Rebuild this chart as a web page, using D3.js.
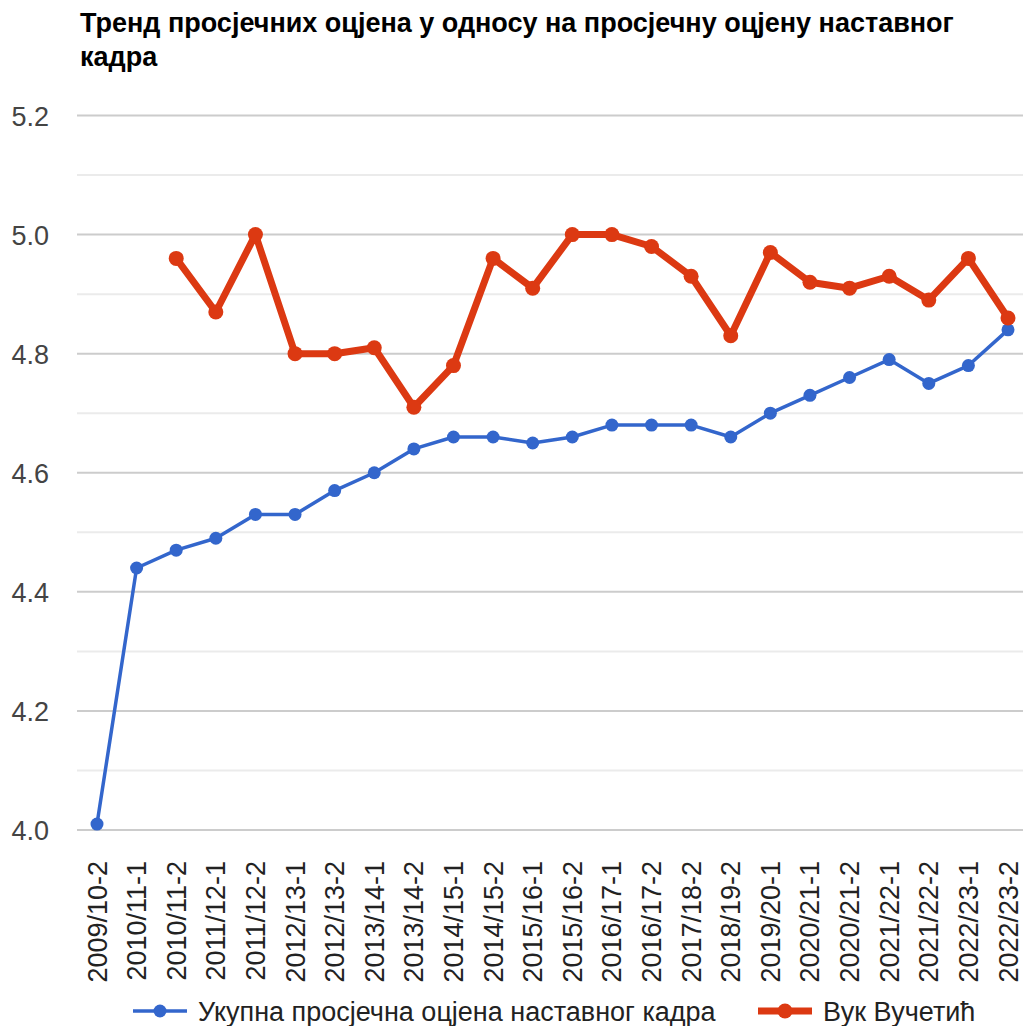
<!DOCTYPE html>
<html>
<head>
<meta charset="utf-8">
<script src="https://cdn.jsdelivr.net/npm/d3@7"></script>
<style>
  body { margin: 0; background: #fff; }
  svg { display: block; font-family: Arial, "Liberation Sans", sans-serif; }
</style>
</head>
<body>
<svg id="chart" width="1023" height="1026"></svg>
<script>
const categories = ["2009/10-2", "2010/11-1", "2010/11-2", "2011/12-1", "2011/12-2", "2012/13-1",
  "2012/13-2", "2013/14-1", "2013/14-2", "2014/15-1", "2014/15-2", "2015/16-1", "2015/16-2",
  "2016/17-1", "2016/17-2", "2017/18-2", "2018/19-2", "2019/20-1", "2020/21-1", "2020/21-2",
  "2021/22-1", "2021/22-2", "2022/23-1", "2022/23-2"];
const ukupna = [4.01, 4.44, 4.47, 4.49, 4.53, 4.53, 4.57, 4.60, 4.64, 4.66, 4.66, 4.65, 4.66,
  4.68, 4.68, 4.68, 4.66, 4.70, 4.73, 4.76, 4.79, 4.75, 4.78, 4.84];
const vuk = [null, null, 4.96, 4.87, 5.00, 4.80, 4.80, 4.81, 4.71, 4.78, 4.96, 4.91, 5.00,
  5.00, 4.98, 4.93, 4.83, 4.97, 4.92, 4.91, 4.93, 4.89, 4.96, 4.86];
const yTicks = [4.0, 4.2, 4.4, 4.6, 4.8, 5.0, 5.2];
const yMinor = [4.1, 4.3, 4.5, 4.7, 4.9, 5.1];
const titleLines = ["Тренд просјечних оцјена у односу на просјечну оцјену наставног", "кадра"];

const series = [
  { name: "Укупна просјечна оцјена наставног кадра", values: ukupna, color: "#3366cc", width: 3.5, r: 6.5 },
  { name: "Вук Вучетић", values: vuk, color: "#dc3912", width: 7, r: 7.5 }
];

const svg = d3.select("#chart");
const left = 77, right = 1023;

const x = d3.scalePoint().domain(categories).range([97, 1008]);
const y = d3.scaleLinear().domain([4.0, 5.2]).range([830, 115.5]);

// title
svg.append("g").selectAll("text")
  .data(titleLines)
  .join("text")
  .attr("x", 80)
  .attr("y", (d, i) => 32 + i * 34)
  .attr("font-size", 27)
  .attr("font-weight", "bold")
  .attr("fill", "#000")
  .text(d => d);

// gridlines
svg.append("g").selectAll("line")
  .data(yMinor)
  .join("line")
  .attr("x1", left).attr("x2", right)
  .attr("y1", d => y(d)).attr("y2", d => y(d))
  .attr("stroke", "#ebebeb").attr("stroke-width", 2);

svg.append("g").selectAll("line")
  .data(yTicks)
  .join("line")
  .attr("x1", left).attr("x2", right)
  .attr("y1", d => y(d)).attr("y2", d => y(d))
  .attr("stroke", "#cccccc").attr("stroke-width", 2);

// y axis labels
const yAxis = svg.append("g")
  .attr("transform", "translate(49,0)")
  .call(d3.axisLeft(y).tickValues(yTicks).tickFormat(d3.format(".1f")).tickSize(0).tickPadding(0));
yAxis.select(".domain").remove();
yAxis.selectAll("text")
  .attr("font-size", 27)
  .attr("font-family", "Arial, 'Liberation Sans', sans-serif")
  .attr("fill", "#444")
  .attr("dy", "0.36em");

// x axis labels
const xAxis = svg.append("g")
  .attr("transform", "translate(0,861)")
  .call(d3.axisBottom(x).tickSize(0).tickPadding(0));
xAxis.select(".domain").remove();
xAxis.selectAll("text")
  .attr("font-size", 27)
  .attr("font-family", "Arial, 'Liberation Sans', sans-serif")
  .attr("fill", "#222")
  .attr("text-anchor", "end")
  .attr("dy", null)
  .attr("y", 0)
  .attr("transform", "translate(9,0) rotate(-90)");

// lines and points
const line = d3.line()
  .defined(d => d.v != null)
  .x(d => x(d.c))
  .y(d => y(d.v));

series.forEach(s => {
  const pts = categories.map((c, i) => ({ c, v: s.values[i] }));
  svg.append("path")
    .datum(pts)
    .attr("d", line)
    .attr("fill", "none")
    .attr("stroke", s.color)
    .attr("stroke-width", s.width)
    .attr("stroke-linejoin", "round");
  svg.append("g").selectAll("circle")
    .data(pts.filter(d => d.v != null))
    .join("circle")
    .attr("cx", d => x(d.c))
    .attr("cy", d => y(d.v))
    .attr("r", s.r)
    .attr("fill", s.color);
});

// legend
const legendPos = [133, 758];
const legend = svg.append("g").selectAll("g")
  .data(series)
  .join("g")
  .attr("transform", (d, i) => `translate(${legendPos[i]},1011)`);
legend.append("line")
  .attr("x1", 0).attr("x2", 54)
  .attr("stroke", d => d.color)
  .attr("stroke-width", d => d.width);
legend.append("circle")
  .attr("cx", 27).attr("r", d => d.r)
  .attr("fill", d => d.color);
legend.append("text")
  .attr("x", 65)
  .attr("y", 9.5)
  .attr("font-size", 27)
  .attr("fill", "#222")
  .text(d => d.name);
</script>
</body>
</html>
